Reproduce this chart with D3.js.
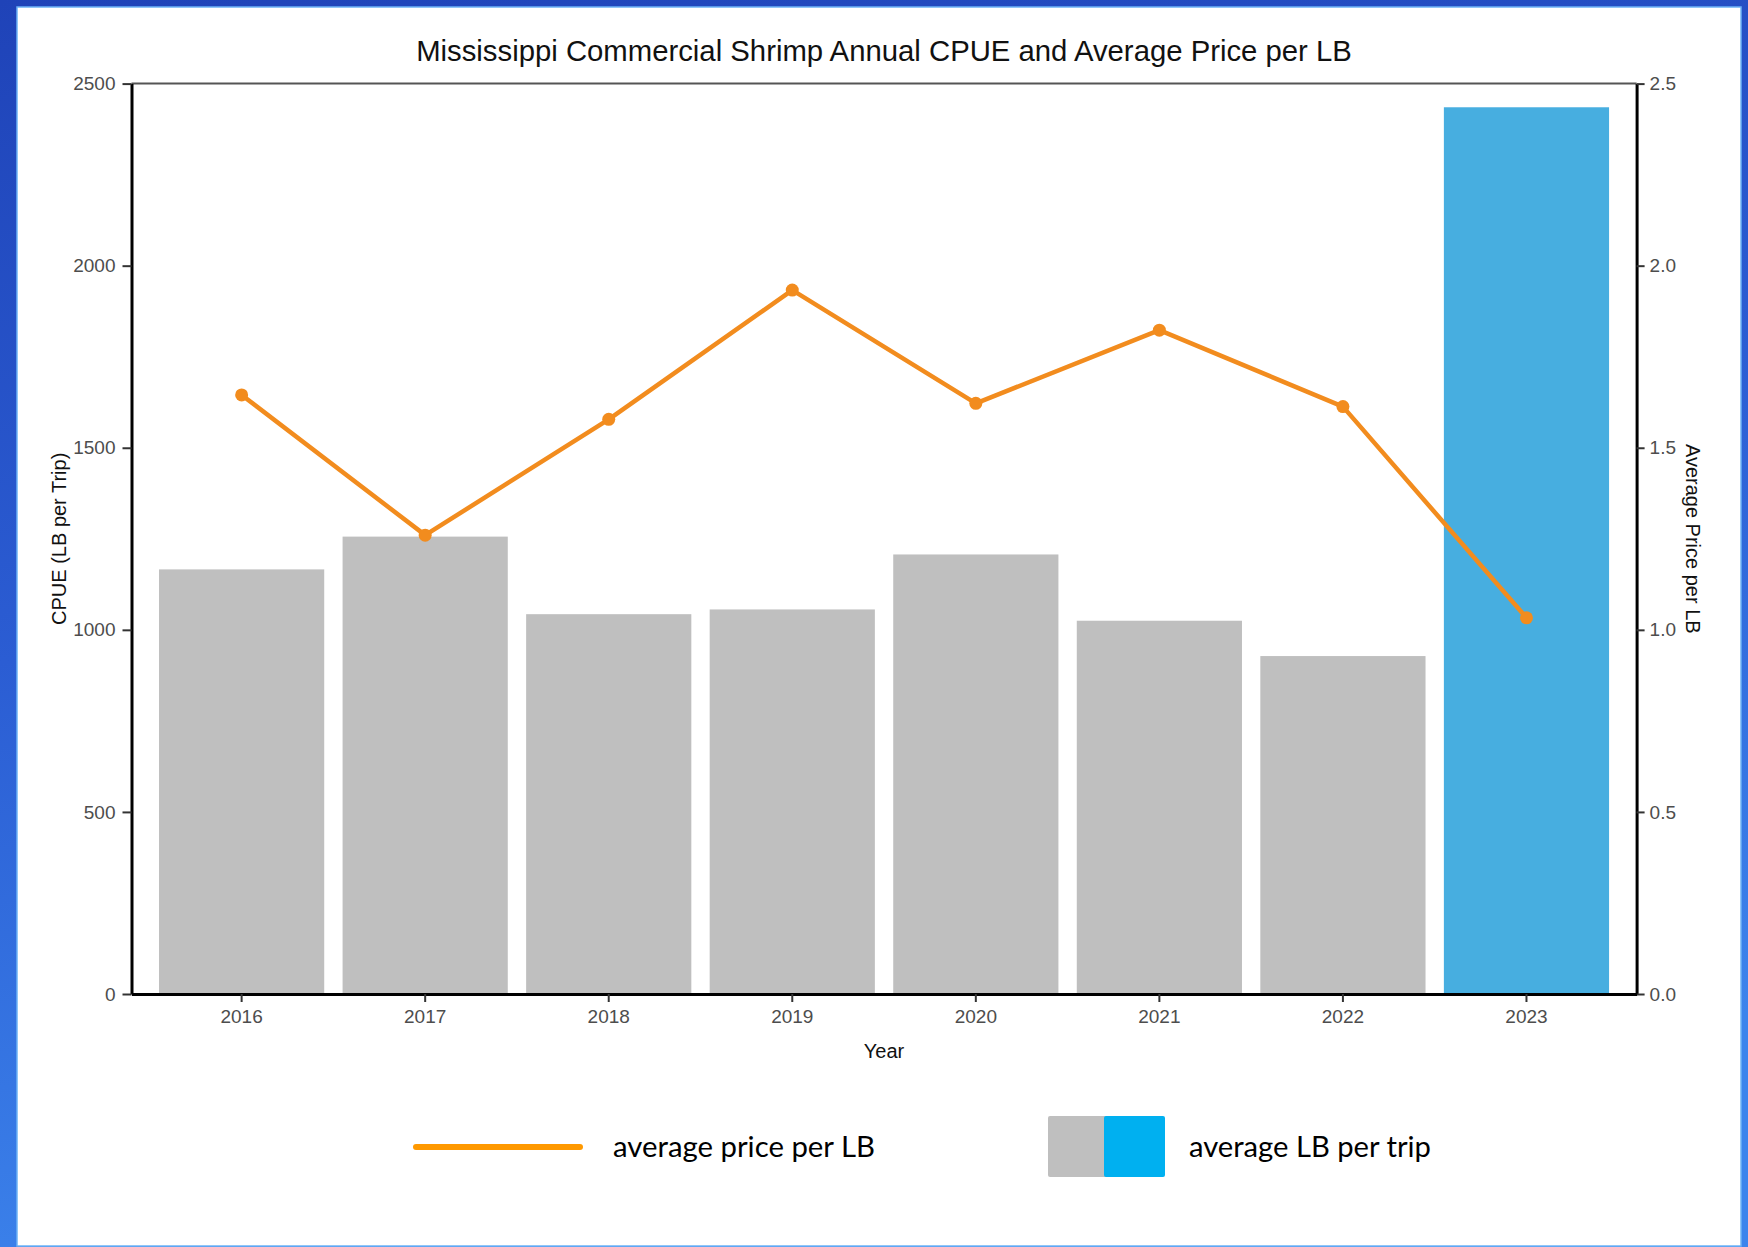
<!DOCTYPE html>
<html>
<head>
<meta charset="utf-8">
<script src="https://cdn.jsdelivr.net/npm/d3@7"></script>
<style>
  body { margin: 0; background: #2a55c8; }
  svg { display: block; }
</style>
</head>
<body>
<svg id="chart" width="1748" height="1247"></svg>
<script>
// data
var years = ["2016", "2017", "2018", "2019", "2020", "2021", "2022", "2023"];
var cpue = [1166, 1256, 1043, 1056, 1207, 1025, 928, 2435];
var price = [1.645, 1.260, 1.578, 1.933, 1.622, 1.823, 1.613, 1.033];
var cpueTicks = [0, 500, 1000, 1500, 2000, 2500];
var priceTicks = [0, 0.5, 1.0, 1.5, 2.0, 2.5];
var highlightYear = "2023";

var chartTitle = "Mississippi Commercial Shrimp Annual CPUE and Average Price per LB",
    xTitle = "Year",
    yLeftTitle = "CPUE (LB per Trip)",
    yRightTitle = "Average Price per LB",
    legendLine = "average price per LB",
    legendBar = "average LB per trip";

var data = years.map(function(y, i) { return {year: y, cpue: cpue[i], price: price[i]}; });

var W = 1748, H = 1247;
var svg = d3.select("#chart");

// background + white card
var defs = svg.append("defs");
var grad = defs.append("linearGradient").attr("id", "bg")
    .attr("x1", 0).attr("y1", 0).attr("x2", 0.25).attr("y2", 1);
grad.append("stop").attr("offset", 0).attr("stop-color", "#1f43b8");
grad.append("stop").attr("offset", 0.5).attr("stop-color", "#2b5dd3");
grad.append("stop").attr("offset", 1).attr("stop-color", "#3c84ec");
svg.append("rect").attr("width", W).attr("height", H).attr("fill", "url(#bg)");
svg.append("rect")
    .attr("x", 17).attr("y", 7).attr("width", 1724).attr("height", 1239)
    .attr("fill", "#fff").attr("stroke", "#6cb3f6").attr("stroke-width", 1.5);

// plot area ("top" is a window global, so use pTop etc)
var pLeft = 131.5, pRight = 1636.6, pTop = 83.6, pBottom = 994;
var fontAxis = "'Liberation Sans', Arial, sans-serif";

var x = d3.scaleBand().domain(years).range([pLeft, pRight])
    .paddingInner(0.1).paddingOuter(0.15);
var yL = d3.scaleLinear().domain([0, 2500]).range([pBottom, pTop]);
var yR = d3.scaleLinear().domain([0, 2.5]).range([pBottom, pTop]);

// bars
svg.append("g").selectAll("rect.bar").data(data).enter().append("rect")
    .attr("class", "bar")
    .attr("x", function(d) { return x(d.year); })
    .attr("y", function(d) { return yL(d.cpue); })
    .attr("width", x.bandwidth())
    .attr("height", function(d) { return pBottom - yL(d.cpue); })
    .attr("fill", function(d) { return d.year == highlightYear ? "#47aee0" : "#bfbfbf"; });

// top frame line
svg.append("line")
    .attr("x1", pLeft).attr("x2", pRight).attr("y1", pTop).attr("y2", pTop)
    .attr("stroke", "#555").attr("stroke-width", 2);

function styleAxis(g) {
    g.select(".domain").attr("stroke", "#000").attr("stroke-width", 3);
    g.selectAll(".tick line").attr("stroke", "#333").attr("stroke-width", 2);
    g.selectAll(".tick text")
        .style("font-family", fontAxis).style("font-size", "19px").attr("fill", "#4d4d4d");
}

svg.append("g").attr("transform", "translate(" + pLeft + ",0)")
    .call(d3.axisLeft(yL).tickValues(cpueTicks).tickFormat(d3.format("d"))
        .tickSize(9).tickSizeOuter(0).tickPadding(7))
    .call(styleAxis);

svg.append("g").attr("transform", "translate(" + pRight + ",0)")
    .call(d3.axisRight(yR).tickValues(priceTicks).tickFormat(d3.format(".1f"))
        .tickSize(8).tickSizeOuter(0).tickPadding(5))
    .call(styleAxis);

svg.append("g").attr("transform", "translate(0," + pBottom + ")")
    .call(d3.axisBottom(x).tickSize(8).tickSizeOuter(0).tickPadding(8))
    .call(styleAxis);

// price line
var line = d3.line()
    .x(function(d) { return x(d.year) + x.bandwidth() / 2; })
    .y(function(d) { return yR(d.price); });

svg.append("path").datum(data)
    .attr("d", line)
    .attr("fill", "none").attr("stroke", "#f28c1e")
    .attr("stroke-width", 4.5).attr("stroke-linejoin", "round");

svg.append("g").selectAll("circle").data(data).enter().append("circle")
    .attr("cx", function(d) { return x(d.year) + x.bandwidth() / 2; })
    .attr("cy", function(d) { return yR(d.price); })
    .attr("r", 6.5).attr("fill", "#f28c1e");

// titles
svg.append("text")
    .attr("x", 884).attr("y", 61).attr("text-anchor", "middle")
    .style("font-family", fontAxis).style("font-size", "29.3px").attr("fill", "#111")
    .text(chartTitle);

svg.append("text")
    .attr("x", (pLeft + pRight) / 2).attr("y", 1051).attr("dy", "0.35em").attr("text-anchor", "middle")
    .style("font-family", fontAxis).style("font-size", "20px").attr("fill", "#111")
    .text(xTitle);

svg.append("text")
    .attr("transform", "translate(59," + (pTop + pBottom) / 2 + ") rotate(-90)")
    .attr("dy", "0.35em").attr("text-anchor", "middle")
    .style("font-family", fontAxis).style("font-size", "20px").attr("fill", "#111")
    .text(yLeftTitle);

svg.append("text")
    .attr("transform", "translate(1693," + (pTop + pBottom) / 2 + ") rotate(90)")
    .attr("dy", "0.35em").attr("text-anchor", "middle")
    .style("font-family", fontAxis).style("font-size", "20px").attr("fill", "#111")
    .text(yRightTitle);

// legend
function fitText(t, target) {
    var s = 30;
    t.style("font-size", s + "px");
    var w = t.node().getComputedTextLength();
    t.style("font-size", (s * target / w) + "px");
}

var lg = svg.append("g");
lg.append("line")
    .attr("x1", 416).attr("x2", 580).attr("y1", 1147).attr("y2", 1147)
    .attr("stroke", "#ff9900").attr("stroke-width", 6).attr("stroke-linecap", "round");
var t1 = lg.append("text")
    .attr("x", 613).attr("y", 1147).attr("dy", "0.35em")
    .style("font-family", "Lato, 'Open Sans', sans-serif").attr("fill", "#000")
    .text(legendLine);
fitText(t1, 262);

lg.append("rect").attr("x", 1048).attr("y", 1116).attr("width", 60).attr("height", 61)
    .attr("rx", 2).attr("fill", "#bfbfbf");
lg.append("rect").attr("x", 1104).attr("y", 1116).attr("width", 61).attr("height", 61)
    .attr("rx", 2).attr("fill", "#00b0f0");
var t2 = lg.append("text")
    .attr("x", 1189).attr("y", 1147).attr("dy", "0.35em")
    .style("font-family", "Lato, 'Open Sans', sans-serif").attr("fill", "#000")
    .text(legendBar);
fitText(t2, 242);
</script>
</body>
</html>
